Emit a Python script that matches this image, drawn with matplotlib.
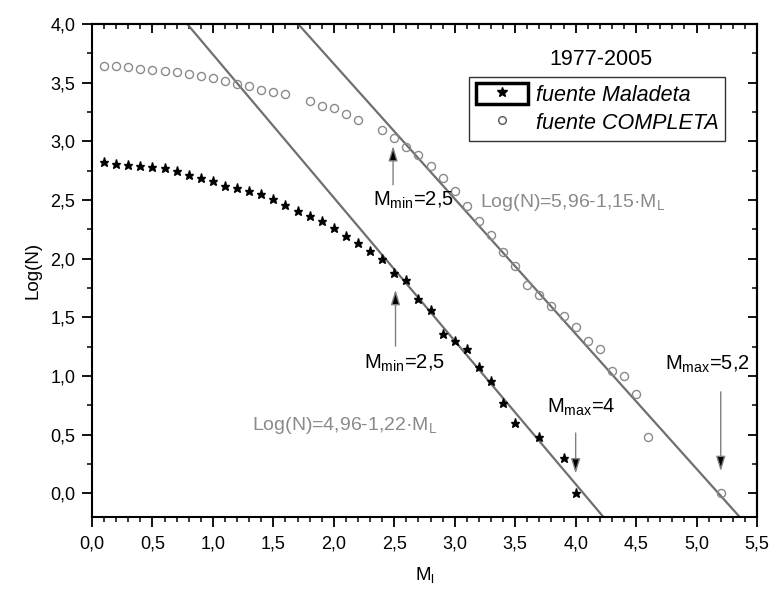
import numpy as np
import matplotlib
matplotlib.use('Agg')
import matplotlib.pyplot as plt
import matplotlib.patches as mpatches
from matplotlib.lines import Line2D
from matplotlib.ticker import MultipleLocator, FuncFormatter

plt.rcParams['font.family'] = ['Liberation Sans', 'DejaVu Sans']
plt.rcParams['mathtext.fontset'] = 'custom'
plt.rcParams['mathtext.rm'] = 'Liberation Sans'
plt.rcParams['mathtext.it'] = 'Liberation Sans:italic'

# fuente Maladeta (estrellas)
mal_x = [0.1, 0.2, 0.3, 0.4, 0.5, 0.6, 0.7, 0.8, 0.9, 1.0,
         1.1, 1.2, 1.3, 1.4, 1.5, 1.6, 1.7, 1.8, 1.9, 2.0,
         2.1, 2.2, 2.3, 2.4, 2.5, 2.6, 2.7, 2.8, 2.9, 3.0,
         3.1, 3.2, 3.3, 3.4, 3.5, 3.7, 3.9, 4.0]
mal_y = [2.82, 2.81, 2.80, 2.79, 2.78, 2.77, 2.75, 2.71, 2.69, 2.66,
         2.62, 2.60, 2.58, 2.55, 2.51, 2.46, 2.41, 2.36, 2.32, 2.26,
         2.19, 2.13, 2.07, 2.00, 1.88, 1.82, 1.66, 1.56, 1.36, 1.30,
         1.23, 1.08, 0.96, 0.77, 0.60, 0.48, 0.30, 0.00]

# fuente COMPLETA (circulos)
com_x = [0.1, 0.2, 0.3, 0.4, 0.5, 0.6, 0.7, 0.8, 0.9, 1.0,
         1.1, 1.2, 1.3, 1.4, 1.5, 1.6, 1.8, 1.9, 2.0, 2.1,
         2.2, 2.4, 2.5, 2.6, 2.7, 2.8, 2.9, 3.0, 3.1, 3.2,
         3.3, 3.4, 3.5, 3.6, 3.7, 3.8, 3.9, 4.0, 4.1, 4.2,
         4.3, 4.4, 4.5, 4.6, 5.2]
com_y = [3.64, 3.64, 3.63, 3.62, 3.61, 3.60, 3.59, 3.57, 3.56, 3.54,
         3.51, 3.49, 3.47, 3.44, 3.42, 3.40, 3.34, 3.30, 3.28, 3.23,
         3.18, 3.10, 3.03, 2.95, 2.88, 2.79, 2.69, 2.58, 2.45, 2.32,
         2.20, 2.06, 1.94, 1.78, 1.69, 1.60, 1.51, 1.42, 1.30, 1.23,
         1.04, 1.00, 0.85, 0.48, 0.00]

# ajustes Log(N) = a - b*M
mal_a, mal_b = 4.96, 1.22
com_a, com_b = 5.96, 1.15

xlim = (0.0, 5.5)
ylim = (-0.2, 4.0)

fig = plt.figure(figsize=(7.72, 5.96), dpi=100)
ax = fig.add_axes([0.1192, 0.1326, 0.8614, 0.8272])

xl = np.array(xlim)
line_col = '#6f6f6f'
ax.plot(xl, mal_a - mal_b * xl, color=line_col, lw=1.6, zorder=2)
ax.plot(xl, com_a - com_b * xl, color=line_col, lw=1.6, zorder=2)

ax.plot(mal_x, mal_y, ls='none', marker='*', ms=6.5, color='black', mec='black', zorder=3)
ax.plot(com_x, com_y, ls='none', marker='o', ms=5.8, mfc='none', mec='#8a8a8a', mew=1.0, zorder=3)

ax.set_xlim(*xlim)
ax.set_ylim(*ylim)

comma = FuncFormatter(lambda v, p: f"{v:.1f}".replace('.', ','))
ax.xaxis.set_major_locator(MultipleLocator(0.5))
ax.xaxis.set_minor_locator(MultipleLocator(0.1))
ax.yaxis.set_major_locator(MultipleLocator(0.5))
ax.yaxis.set_minor_locator(MultipleLocator(0.25))
ax.xaxis.set_major_formatter(comma)
ax.yaxis.set_major_formatter(comma)
ax.tick_params(which='major', direction='out', length=7, width=1.3, labelsize=13, colors='black')
ax.tick_params(which='minor', direction='out', length=3.6, width=1.1)
ax.tick_params(axis='x', pad=6)
ax.tick_params(axis='y', pad=5)
for s in ax.spines.values():
    s.set_linewidth(1.5)

# ejes opuestos con marcas hacia dentro
top = ax.secondary_xaxis('top')
top.xaxis.set_major_locator(MultipleLocator(0.5))
top.xaxis.set_minor_locator(MultipleLocator(0.1))
top.tick_params(which='major', direction='in', length=6.5, width=1.3, labeltop=False)
top.tick_params(which='minor', direction='in', length=3.3, width=1.1)
right = ax.secondary_yaxis('right')
right.yaxis.set_major_locator(MultipleLocator(0.5))
right.yaxis.set_minor_locator(MultipleLocator(0.25))
right.tick_params(which='major', direction='in', length=6.5, width=1.3, labelright=False)
right.tick_params(which='minor', direction='in', length=3.3, width=1.1)
for sa in (top, right):
    for s in sa.spines.values():
        s.set_linewidth(1.5)

ax.set_xlabel(r'M$_\mathrm{l}$', fontsize=13.5, labelpad=9)
ax.set_ylabel('Log(N)', fontsize=13.5, labelpad=6)

# leyenda
box = mpatches.Rectangle((0, 0), 1, 1, fc='none', ec='black', lw=2.5)
star_h = Line2D([], [], ls='none', marker='*', ms=7, color='black')
circ_h = Line2D([], [], ls='none', marker='o', ms=5.5, mfc='none', mec='#555555', mew=1.0)
leg = ax.legend([(box, star_h), circ_h], ['fuente Maladeta', 'fuente COMPLETA'],
                loc='upper left', bbox_to_anchor=(0.567, 0.8925), borderaxespad=0,
                numpoints=1, prop={'style': 'italic', 'size': 15.5}, frameon=True,
                fancybox=False, edgecolor='black', handlelength=2.45, handleheight=1.1,
                handletextpad=0.35, borderpad=0.3, labelspacing=0.25)
leg.get_frame().set_linewidth(1.0)

ax.text(4.21, 3.695, '1977-2005', fontsize=15.5, ha='center', va='center')

grey_txt = '#8a8a8a'
ax.text(3.21, 2.48, r'Log(N)=5,96-1,15·M$_\mathrm{L}$', fontsize=14, color=grey_txt, ha='left', va='center')
ax.text(1.32, 0.58, r'Log(N)=4,96-1,22·M$_\mathrm{L}$', fontsize=14, color=grey_txt, ha='left', va='center')

arrow = dict(arrowstyle='-|>,head_length=0.9,head_width=0.28', ec='#808080', fc='black', lw=1.0,
             shrinkA=0, shrinkB=0)
ax.annotate('', xy=(2.49, 2.96), xytext=(2.49, 2.63), arrowprops=arrow)
ax.text(2.32, 2.50, r'M$_\mathrm{min}$=2,5', fontsize=14.5, ha='left', va='center')
ax.annotate('', xy=(2.51, 1.735), xytext=(2.51, 1.256), arrowprops=arrow)
ax.text(2.25, 1.11, r'M$_\mathrm{min}$=2,5', fontsize=14.5, ha='left', va='center')
ax.annotate('', xy=(4.0, 0.17), xytext=(4.0, 0.515), arrowprops=arrow)
ax.text(3.76, 0.73, r'M$_\mathrm{max}$=4', fontsize=14.5, ha='left', va='center')
ax.annotate('', xy=(5.2, 0.19), xytext=(5.2, 0.866), arrowprops=arrow)
ax.text(4.74, 1.10, r'M$_\mathrm{max}$=5,2', fontsize=14.5, ha='left', va='center')

fig.savefig('out.png', dpi=100)
